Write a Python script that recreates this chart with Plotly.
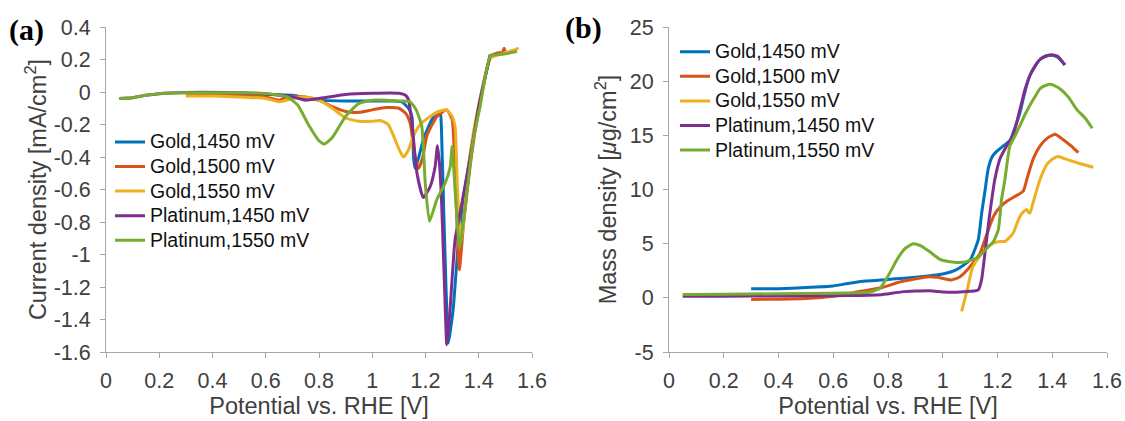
import plotly.graph_objects as go

# ---------------- data ----------------
names = ["Gold,1450 mV", "Gold,1500 mV", "Gold,1550 mV", "Platinum,1450 mV", "Platinum,1550 mV"]
colors = ["#0072BD", "#D95319", "#EDB120", "#7E2F8E", "#77AC30"]

# Panel (a): current density [mA/cm2]
a_gold1450_x = [0.30, 0.40, 0.50, 0.60, 0.70, 0.75, 0.80, 0.90, 1.00, 1.08, 1.11, 1.136, 1.149, 1.155, 1.161, 1.175,
                1.192, 1.224, 1.249, 1.256, 1.262, 1.268, 1.277, 1.286, 1.295, 1.305, 1.324, 1.34, 1.368, 1.40, 1.425, 1.443, 1.45]
a_gold1450_y = [-0.01, -0.01, -0.012, -0.015, -0.02, -0.035, -0.05, -0.055, -0.055, -0.055, -0.06, -0.10, -0.15, -0.40, -0.47, -0.40,
                -0.29, -0.17, -0.12, -0.13, -0.35, -0.70, -1.20, -1.545, -1.45, -1.32, -0.91, -0.68, -0.40, -0.09, 0.10, 0.22, 0.23]

a_gold1500_x = [0.30, 0.40, 0.50, 0.60, 0.65, 0.68, 0.75, 0.80, 0.85, 0.90, 0.95, 1.00, 1.05, 1.10, 1.125, 1.142, 1.161, 1.174,
                1.19, 1.205, 1.243, 1.28, 1.30, 1.311, 1.327, 1.343, 1.368, 1.40, 1.425, 1.445, 1.47, 1.49, 1.495, 1.50]
a_gold1500_y = [-0.02, -0.02, -0.022, -0.03, -0.05, -0.03, -0.03, -0.05, -0.09, -0.12, -0.125, -0.11, -0.095, -0.10, -0.13, -0.19, -0.40, -0.47,
                -0.40, -0.27, -0.15, -0.11, -0.17, -0.50, -1.094, -0.81, -0.45, -0.10, 0.10, 0.22, 0.24, 0.245, 0.27, 0.25]

a_gold1550_x = [0.30, 0.40, 0.50, 0.60, 0.65, 0.70, 0.75, 0.80, 0.85, 0.90, 0.95, 1.00, 1.03, 1.06, 1.08, 1.10, 1.117, 1.135,
                1.155, 1.18, 1.218, 1.25, 1.28, 1.30, 1.311, 1.32, 1.333, 1.345, 1.358, 1.38, 1.41, 1.445, 1.50, 1.55]
a_gold1550_y = [-0.025, -0.025, -0.03, -0.04, -0.06, -0.04, -0.03, -0.05, -0.10, -0.16, -0.18, -0.18, -0.175, -0.20, -0.27, -0.35, -0.40, -0.36,
                -0.27, -0.20, -0.15, -0.12, -0.11, -0.15, -0.21, -0.60, -0.92, -0.78, -0.50, -0.25, 0.00, 0.21, 0.24, 0.27]

a_pt1450_x = [0.05, 0.10, 0.15, 0.20, 0.30, 0.50, 0.60, 0.70, 0.75, 0.80, 0.90, 1.00, 1.10, 1.125, 1.136, 1.149, 1.168, 1.192,
              1.218, 1.236, 1.245, 1.253, 1.261, 1.274, 1.28, 1.287, 1.293, 1.311, 1.33, 1.368, 1.40, 1.425, 1.443]
a_pt1450_y = [-0.04, -0.035, -0.02, -0.01, -0.003, -0.005, -0.01, -0.03, -0.05, -0.04, -0.015, -0.008, -0.008, -0.02, -0.047, -0.19, -0.50, -0.65,
              -0.58, -0.46, -0.33, -0.45, -0.70, -1.32, -1.555, -1.45, -1.32, -0.91, -0.745, -0.40, -0.09, 0.10, 0.23]

a_pt1550_x = [0.05, 0.10, 0.15, 0.20, 0.30, 0.50, 0.60, 0.68, 0.72, 0.76, 0.80, 0.82, 0.85, 0.90, 0.95, 1.00, 1.05, 1.10, 1.142,
              1.165, 1.186, 1.199, 1.215, 1.243, 1.274, 1.293, 1.30, 1.311, 1.328, 1.349, 1.38, 1.405, 1.443, 1.47, 1.50, 1.544]
a_pt1550_y = [-0.04, -0.035, -0.02, -0.01, -0.005, -0.005, -0.01, -0.03, -0.08, -0.20, -0.30, -0.32, -0.28, -0.15, -0.07, -0.05, -0.05, -0.055, -0.06,
              -0.11, -0.21, -0.56, -0.796, -0.66, -0.56, -0.46, -0.335, -0.60, -0.96, -0.70, -0.29, -0.09, 0.22, 0.23, 0.235, 0.25]

# Panel (b): mass density [ug/cm2]
b_gold1450_x = [0.30, 0.40, 0.50, 0.60, 0.66, 0.72, 0.80, 0.90, 1.00, 1.05, 1.10, 1.13, 1.142, 1.155, 1.166, 1.18, 1.196, 1.22,
                1.245, 1.265, 1.282, 1.30, 1.318, 1.34, 1.355, 1.375, 1.397, 1.42, 1.446]
b_gold1450_y = [0.83, 0.85, 0.95, 1.10, 1.35, 1.55, 1.70, 1.90, 2.20, 2.60, 3.50, 5.4, 7.8, 10.0, 11.9, 13.0, 13.5, 14.0,
                14.5, 15.8, 17.1, 19.0, 20.5, 21.5, 22.0, 22.3, 22.4, 22.2, 21.5]

b_gold1500_x = [0.30, 0.40, 0.50, 0.60, 0.70, 0.771, 0.85, 0.95, 0.98, 1.03, 1.06, 1.09, 1.136, 1.16, 1.185, 1.21, 1.233, 1.26,
                1.294, 1.31, 1.33, 1.355, 1.38, 1.41, 1.44, 1.47, 1.495]
b_gold1500_y = [-0.15, -0.12, -0.05, 0.15, 0.6, 0.9, 1.5, 1.95, 1.9, 1.65, 1.9, 2.6, 4.1, 5.8, 7.5, 8.4, 8.9, 9.3,
                9.85, 11.2, 12.8, 14.0, 14.7, 15.1, 14.6, 14.0, 13.4]

b_gold1550_x = [1.069, 1.09, 1.106, 1.12, 1.136, 1.16, 1.185, 1.21, 1.227, 1.245, 1.258, 1.27, 1.282, 1.295, 1.307, 1.313, 1.319,
                1.328, 1.337, 1.355, 1.38, 1.40, 1.422, 1.45, 1.50, 1.55]
b_gold1550_y = [-1.25, 0.8, 2.6, 3.3, 3.85, 4.6, 5.05, 5.2, 5.2, 5.6, 6.0, 6.8, 7.5, 7.95, 8.15, 7.9, 7.85,
                8.6, 9.4, 10.9, 12.3, 12.8, 13.05, 12.8, 12.4, 12.05]

b_pt1450_x = [0.05, 0.2, 0.4, 0.6, 0.7, 0.771, 0.85, 0.9, 0.953, 1.0, 1.05, 1.1, 1.13, 1.142, 1.154, 1.163, 1.172, 1.182, 1.19,
              1.21, 1.233, 1.257, 1.282, 1.30, 1.318, 1.34, 1.355, 1.375, 1.397, 1.42, 1.446]
b_pt1450_y = [0.15, 0.15, 0.18, 0.2, 0.22, 0.28, 0.55, 0.62, 0.65, 0.55, 0.52, 0.6, 0.74, 1.7, 4.1, 6.0, 7.8, 9.6, 10.9,
              12.9, 14.0, 15.0, 17.4, 19.2, 20.5, 21.5, 22.0, 22.3, 22.45, 22.3, 21.5]

b_pt1550_x = [0.05, 0.2, 0.4, 0.6, 0.7, 0.734, 0.771, 0.80, 0.832, 0.86, 0.892, 0.92, 0.95, 0.99, 1.02, 1.051, 1.08, 1.11, 1.124,
              1.154, 1.185, 1.203, 1.215, 1.227, 1.245, 1.265, 1.282, 1.30, 1.318, 1.34, 1.355, 1.375, 1.397, 1.428, 1.46, 1.489, 1.52, 1.546]
b_pt1550_y = [0.31, 0.33, 0.38, 0.42, 0.48, 0.52, 0.9, 2.0, 3.5, 4.5, 5.0, 4.8, 4.3, 3.55, 3.35, 3.27, 3.3, 3.55, 3.67,
              4.4, 5.2, 6.3, 9.1, 10.9, 14.0, 15.0, 15.9, 16.9, 17.75, 18.7, 19.3, 19.6, 19.7, 19.3, 18.5, 17.4, 16.6, 15.65]

x_tickvals = [0, 0.2, 0.4, 0.6, 0.8, 1.0, 1.2, 1.4, 1.6]
x_ticktext = ["0", "0.2", "0.4", "0.6", "0.8", "1", "1.2", "1.4", "1.6"]
a_y_tickvals = [0.4, 0.2, 0, -0.2, -0.4, -0.6, -0.8, -1.0, -1.2, -1.4, -1.6]
a_y_ticktext = ["0.4", "0.2", "0", "-0.2", "-0.4", "-0.6", "-0.8", "-1", "-1.2", "-1.4", "-1.6"]
b_y_tickvals = [25, 20, 15, 10, 5, 0, -5]
b_y_ticktext = ["25", "20", "15", "10", "5", "0", "-5"]

# ---------------- figure ----------------
W, H = 1125, 421
FONT = "Liberation Sans, Arial, sans-serif"
AXC = "#a6a6a6"
TXC = "#404040"
TICK_SIZE = 21.5
TITLE_SIZE = 23.5
LEG_TEXT_SIZE = 19.5   # drawn size of legend text
LEG_ROW_SIZE = 16.6    # legend base font (sets row spacing)

a_series = [(a_gold1450_x, a_gold1450_y), (a_gold1500_x, a_gold1500_y), (a_gold1550_x, a_gold1550_y),
            (a_pt1450_x, a_pt1450_y), (a_pt1550_x, a_pt1550_y)]
b_series = [(b_gold1450_x, b_gold1450_y), (b_gold1500_x, b_gold1500_y), (b_gold1550_x, b_gold1550_y),
            (b_pt1450_x, b_pt1450_y), (b_pt1550_x, b_pt1550_y)]


def leg_name(nm):
    return f'<span style="font-size:{LEG_TEXT_SIZE}px">{nm}</span>'


fig = go.Figure()
for (xs, ys), nm, c in zip(a_series, names, colors):
    fig.add_trace(go.Scatter(x=xs, y=ys, name=leg_name(nm), mode="lines",
                             line=dict(color=c, width=3, shape="spline", smoothing=0.5),
                             xaxis="x", yaxis="y", legend="legend"))
for (xs, ys), nm, c in zip(b_series, names, colors):
    fig.add_trace(go.Scatter(x=xs, y=ys, name=leg_name(nm), mode="lines",
                             line=dict(color=c, width=3, shape="spline", smoothing=0.5),
                             xaxis="x2", yaxis="y2", legend="legend2"))

ydom = [1 - 352 / H, 1 - 27 / H]
common_x = dict(range=[0, 1.6], tickvals=x_tickvals, ticktext=x_ticktext, showgrid=False, zeroline=False,
                showline=True, linecolor=AXC, linewidth=1, ticks="outside", ticklen=5, tickcolor=AXC,
                tickfont=dict(family=FONT, size=TICK_SIZE, color=TXC), ticklabelstandoff=4, automargin=False,
                title=dict(text="Potential vs. RHE [V]", font=dict(family=FONT, size=TITLE_SIZE, color=TXC), standoff=5))
common_y = dict(showgrid=False, zeroline=False, showline=True, linecolor=AXC, linewidth=1, ticks="outside",
                ticklen=5, tickcolor=AXC, tickfont=dict(family=FONT, size=TICK_SIZE, color=TXC), ticklabelstandoff=5,
                automargin=False)

fig.update_layout(
    width=W, height=H, margin=dict(l=0, r=0, t=0, b=0, autoexpand=False),
    paper_bgcolor="white", plot_bgcolor="white",
    xaxis=dict(domain=[106 / W, 532 / W], anchor="y", **common_x),
    yaxis=dict(domain=ydom, anchor="x", range=[-1.6, 0.4], tickvals=a_y_tickvals, ticktext=a_y_ticktext,
               title=dict(text="Current density [mA/cm<sup>2</sup>]", font=dict(family=FONT, size=TITLE_SIZE, color=TXC), standoff=0),
               **common_y),
    xaxis2=dict(domain=[669 / W, 1107 / W], anchor="y2", **common_x),
    yaxis2=dict(domain=ydom, anchor="x2", range=[-5, 25], tickvals=b_y_tickvals, ticktext=b_y_ticktext,
                title=dict(text="Mass density [<i>μ</i>g/cm<sup>2</sup>]", font=dict(family=FONT, size=TITLE_SIZE, color=TXC), standoff=6),
                **common_y),
    legend=dict(x=110 / W, y=1 - 124.6 / H, xanchor="left", yanchor="top", bgcolor="rgba(0,0,0,0)",
                font=dict(family=FONT, size=LEG_ROW_SIZE, color="#111111"), itemwidth=30, tracegroupgap=0),
    legend2=dict(x=675 / W, y=1 - 34.5 / H, xanchor="left", yanchor="top", bgcolor="rgba(0,0,0,0)",
                 font=dict(family=FONT, size=LEG_ROW_SIZE, color="#111111"), itemwidth=30, tracegroupgap=0),
    showlegend=True,
    annotations=[
        dict(text="<b>(a)</b>", x=7 / W, y=1 - 30 / H, xref="paper", yref="paper", xanchor="left", yanchor="middle",
             showarrow=False, font=dict(family="Liberation Serif, Times New Roman, serif", size=30, color="black")),
        dict(text="<b>(b)</b>", x=563 / W, y=1 - 28 / H, xref="paper", yref="paper", xanchor="left", yanchor="middle",
             showarrow=False, font=dict(family="Liberation Serif, Times New Roman, serif", size=30, color="black")),
    ],
)

fig.write_html("out.html")
